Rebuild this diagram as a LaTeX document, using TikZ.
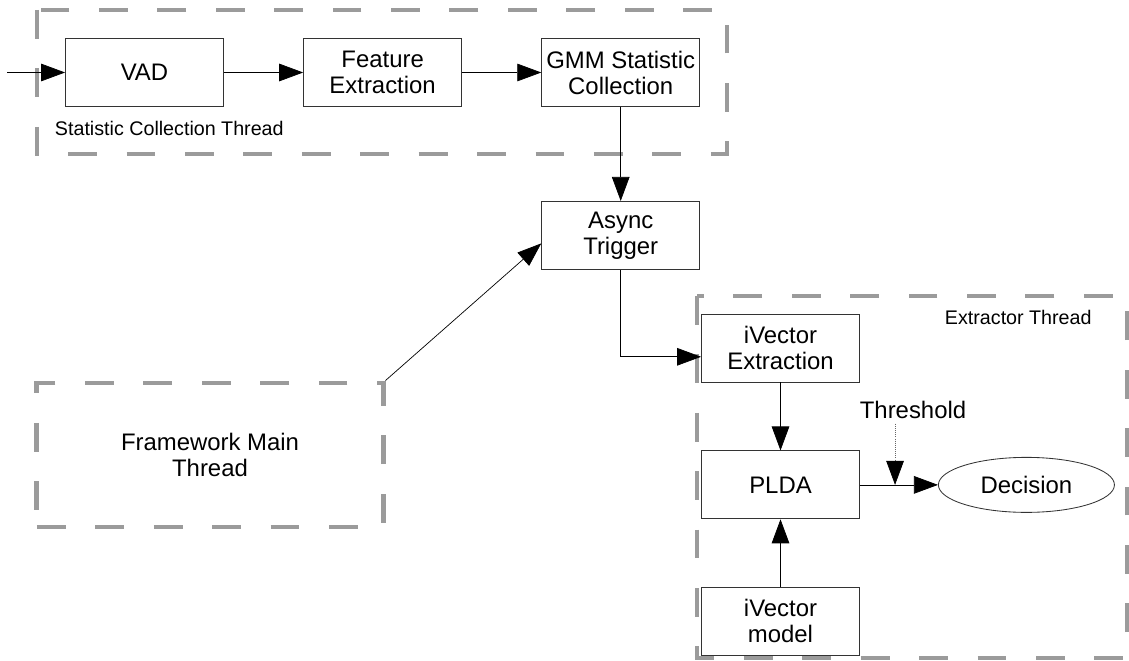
\documentclass[tikz,border=0pt]{standalone}
\usepackage{fontspec}
\setmainfont{Liberation Sans}
\usetikzlibrary{arrows.meta,positioning,shapes.geometric,calc}
\definecolor{threadgray}{RGB}{155,155,155}
\newcommand\boxfont{\fontsize{17}{18.5}\selectfont}
\newcommand\lblfont{\fontsize{14}{16}\selectfont}

\begin{document}
\begin{tikzpicture}[x=0.025cm, y=-0.025cm,
  node distance=1.98cm,
  stage/.style={draw=black!80, line width=0.6pt, minimum width=3.95cm,
    minimum height=1.7cm, align=center, font=\boxfont, inner sep=1pt},
  thread/.style={draw=threadgray, line width=3.5pt, dash pattern=on 0.72cm off 0.74cm},
  flow/.style={-{Triangle[length=0.6cm,width=0.44cm,color=black]}, line width=0.5pt}]
  \useasboundingbox (0,0) rectangle (1129,661);
  % statistic collection thread
  \draw[thread] (37,10) rectangle (727,154);
  \node[stage] (vad) at (144.5,72.5) {VAD};
  \node[stage, right=of vad] (feat) {Feature\\Extraction};
  \node[stage, right=of feat] (gmm) {GMM Statistic\\Collection};
  \node[font=\lblfont, anchor=west] (statlbl) at (50,128) {Statistic Collection Thread};
  \coordinate[left=1.44cm of vad] (in);
  \node[stage, below=2.35cm of gmm] (async) {Async\\Trigger};
  % framework main thread
  \node[thread, minimum width=8.65cm, minimum height=3.6cm, align=center,
    font=\boxfont] (fw) at (210,455) {Framework Main\\Thread};
  % extractor thread
  \draw[thread] (697,296) rectangle (1127,658);
  \node[font=\lblfont, anchor=west] (extlbl) at (940,317) {Extractor Thread};
  \node[stage] (ivext) at (780.5,348) {iVector\\Extraction};
  \node[stage, below=1.7cm of ivext] (plda) {PLDA};
  \node[stage, below=1.68cm of plda] (ivmod) {iVector\\model};
  \node[draw=black!80, line width=0.6pt, ellipse, inner sep=0pt,
    minimum width=4.4cm, minimum height=1.375cm, font=\boxfont,
    right=1.95cm of plda] (dec) {Decision};
  \node[font=\boxfont] (thr) at (913,410) {Threshold};
  \coordinate (tpt) at ($(plda.east)!0.45!(dec.west)$);

  \draw[flow] (in) -- (vad);
  \draw[flow] (vad) -- (feat);
  \draw[flow] (feat) -- (gmm);
  \draw[flow] (gmm) -- (async);
  \draw[flow] (fw.north east) -- ([yshift=-0.2cm]async.west);
  \draw[flow] (async) |- ([yshift=-0.22cm]ivext.west);
  \draw[flow] (ivext) -- (plda);
  \draw[flow] (ivmod) -- (plda);
  \draw[flow] (plda) -- (dec);
  \draw[flow, densely dotted, black!60] (thr.south -| tpt) -- (tpt);
\end{tikzpicture}
\end{document}
